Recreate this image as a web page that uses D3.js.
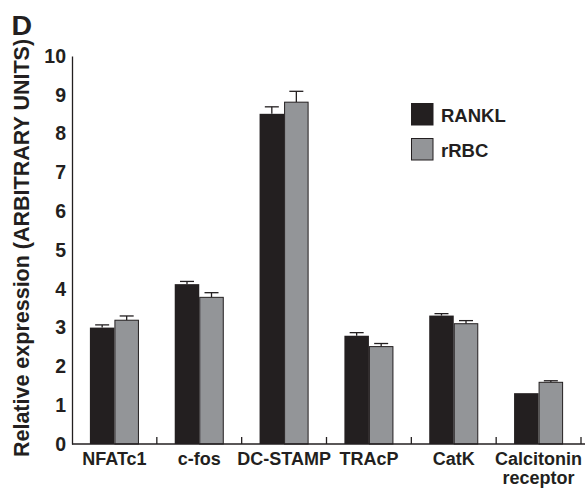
<!DOCTYPE html>
<html><head><meta charset="utf-8">
<script src="https://cdn.jsdelivr.net/npm/d3@7"></script>
<style>
html,body{margin:0;padding:0;background:#fff;}
svg{display:block;}
text{font-family:"Liberation Sans",Arial,Helvetica,sans-serif;font-weight:bold;fill:#231f20;}
</style></head>
<body>
<svg id="chart" width="585" height="488"></svg>
<script>
const categories = ["NFATc1", "c-fos", "DC-STAMP", "TRAcP", "CatK", "Calcitonin\nreceptor"];
const seriesNames = ["RANKL", "rRBC"];
const ranklValues = [3.00, 4.12, 8.51, 2.79, 3.31, 1.31];
const rrbcValues  = [3.19, 3.78, 8.81, 2.51, 3.10, 1.59];
const ranklErrors = [0.07, 0.07, 0.18, 0.08, 0.05, 0.00];
const rrbcErrors  = [0.11, 0.12, 0.28, 0.08, 0.08, 0.04];
const yTicks = [0,1,2,3,4,5,6,7,8,9,10];
const panelLabel = "D";
const yTitle = "Relative expression (ARBITRARY UNITS)";

const colors = {RANKL:"#231f20", rRBC:"#939598"};
const ink = "#231f20";

const svg = d3.select("#chart");
const x = d3.scaleBand().domain(categories).range([72, 581]).paddingInner(0).paddingOuter(0);
const x1 = d3.scaleBand().domain(seriesNames).range([0, x.bandwidth()]).paddingInner(0).paddingOuter(0.73);
const y = d3.scaleLinear().domain([0, 10]).range([444, 56]);

const data = categories.map((c, i) => ({
  cat: c,
  vals: [
    {s:"RANKL", v:ranklValues[i], e:ranklErrors[i]},
    {s:"rRBC", v:rrbcValues[i], e:rrbcErrors[i]}
  ]
}));

// y axis
const yAxis = svg.append("g").attr("transform","translate(72,0)")
  .call(d3.axisLeft(y).tickValues(yTicks).tickFormat(d3.format("d")).tickSize(0).tickPadding(6));
yAxis.select(".domain").attr("stroke", ink).attr("stroke-width", 1.3);
yAxis.selectAll("text").style("font-size","19.5px").style("font-family",'"Liberation Sans",Arial,sans-serif').style("font-weight","bold").attr("fill", ink);

// error bars (drawn first, then bars over)
const groups = svg.append("g").selectAll("g").data(data).join("g")
  .attr("transform", d => `translate(${x(d.cat)},0)`);

groups.selectAll("g.err").data(d => d.vals).join("g").attr("class","err").each(function(d){
  const g = d3.select(this);
  const cx = x1(d.s) + x1.bandwidth()/2;
  g.append("line").attr("x1",cx).attr("x2",cx).attr("y1",y(d.v)).attr("y2",y(d.v+d.e)).attr("stroke",ink).attr("stroke-width",1.3);
  if (d.e > 0) g.append("line").attr("x1",cx-7).attr("x2",cx+7).attr("y1",y(d.v+d.e)).attr("y2",y(d.v+d.e)).attr("stroke",ink).attr("stroke-width",1.3);
});

groups.selectAll("rect").data(d => d.vals).join("rect")
  .attr("x", d => x1(d.s) + (d.s==="rRBC"?0.5:0))
  .attr("width", d => x1.bandwidth() - (d.s==="rRBC"?1:0))
  .attr("y", d => y(d.v))
  .attr("height", d => y(0) - y(d.v))
  .attr("fill", d => colors[d.s])
  .attr("stroke", d => d.s==="rRBC" ? ink : "none")
  .attr("stroke-width", 1);

// x axis
const xAxisG = svg.append("g");
xAxisG.append("line").attr("x1",72).attr("x2",585).attr("y1",y(0)).attr("y2",y(0)).attr("stroke",ink).attr("stroke-width",1.3);
xAxisG.selectAll("line.tick").data(categories).join("line").attr("class","tick")
  .attr("x1", d => x(d)+x.bandwidth()).attr("x2", d => x(d)+x.bandwidth())
  .attr("y1", y(0)).attr("y2", y(0)-7).attr("stroke", ink).attr("stroke-width",1.3);
xAxisG.selectAll("text.cat").data(categories).join("text").attr("class","cat")
  .attr("text-anchor","middle").style("font-size","18px")
  .attr("transform", d => `translate(${x(d)+x.bandwidth()/2},465)`)
  .each(function(d){
    const lines = d.split("\n");
    d3.select(this).selectAll("tspan").data(lines).join("tspan")
      .attr("x",0).attr("dy",(l,i)=> i===0?0:19).text(l=>l);
  });

// y title
svg.append("text").attr("transform","translate(28.5,248) rotate(-90)")
  .attr("text-anchor","middle").style("font-size","21.5px").text(yTitle);

// panel label
svg.append("text").attr("x",11.5).attr("y",35).style("font-size","28.5px").text(panelLabel);

// legend
const leg = svg.append("g").selectAll("g").data(seriesNames).join("g")
  .attr("transform",(d,i)=>`translate(411,${103 + i*35})`);
leg.append("rect").attr("x",0.5).attr("y",0.5).attr("width",21.5).attr("height",21.5)
  .attr("fill", d=>colors[d]).attr("stroke", ink).attr("stroke-width",1);
leg.append("text").attr("x",30).attr("y",18.5).style("font-size","18.5px").text(d=>d);
</script>
</body></html>
